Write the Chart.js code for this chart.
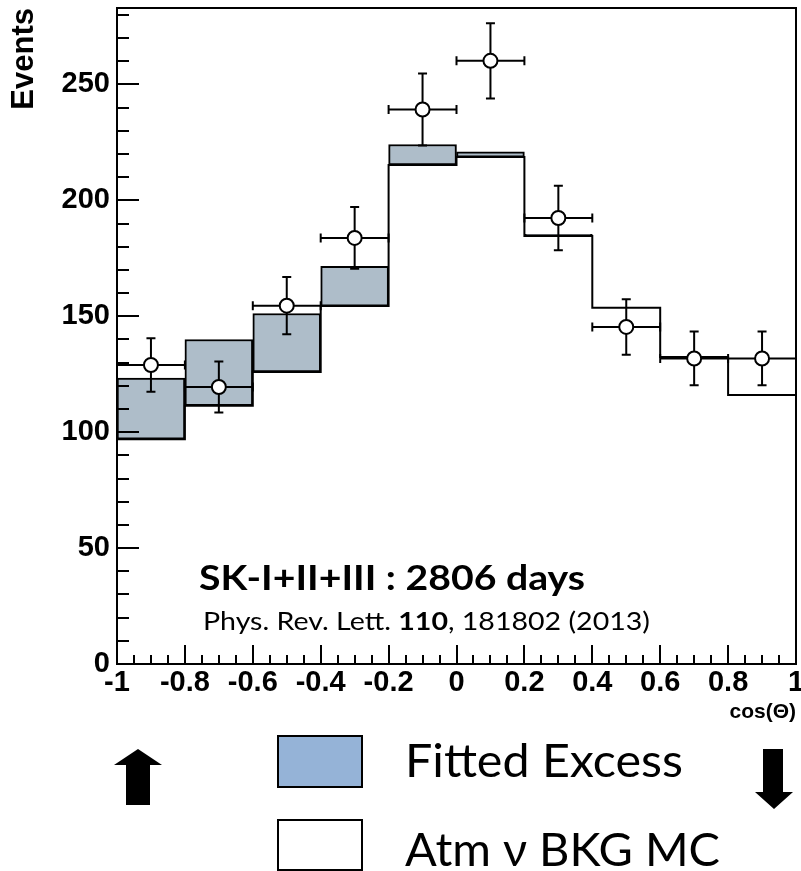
<!DOCTYPE html>
<html>
<head>
<meta charset="utf-8">
<script src="https://cdn.jsdelivr.net/npm/chart.js@4.4.0/dist/chart.umd.min.js"></script>
<style>
  html, body { margin: 0; padding: 0; background: #fff; }
  #wrap { width: 801px; height: 871px; position: relative; }
</style>
</head>
<body>
<div id="wrap"><canvas id="chart"></canvas></div>
<script>
// cos(Theta) binning, 10 bins of 0.2
const binEdges = [-1, -0.8, -0.6, -0.4, -0.2, 0, 0.2, 0.4, 0.6, 0.8, 1];
const binCenters = [-0.9, -0.7, -0.5, -0.3, -0.1, 0.1, 0.3, 0.5, 0.7, 0.9];

// atmospheric nu background MC
const bkgMC = [97, 111.4, 126, 154.4, 215.3, 218.7, 184.6, 153.7, 132.4, 116];
// background + fitted excess
const fitTotal = [123.4, 140, 151.2, 171.6, 224.1, 220.9, 185.4, 153.7, 132.4, 116];

// observed events and their errors
const dataEvents = [129, 119.5, 154.6, 183.8, 239.2, 260.2, 192.4, 145.4, 131.8, 131.8];
const dataErr = [11.5, 11, 12.3, 13.3, 15.5, 16.2, 13.9, 12, 11.6, 11.6];

// axes
const xTickValues = [-1, -0.8, -0.6, -0.4, -0.2, 0, 0.2, 0.4, 0.6, 0.8, 1];
const xTickLabels = ['-1', '-0.8', '-0.6', '-0.4', '-0.2', '0', '0.2', '0.4', '0.6', '0.8', '1'];
const yTickValues = [0, 50, 100, 150, 200, 250];
const yMax = 283;

const axisFont = { family: 'Liberation Sans', weight: 'bold', size: 29 };

// histogram outline needs the last value repeated at the right edge
const mcLine = binEdges.map((e, i) => ({ x: e, y: bkgMC[Math.min(i, bkgMC.length - 1)] }));
const excessBars = binCenters.map((c, i) => ({ x: c, y: [bkgMC[i], fitTotal[i]] }));
const dataPoints = binCenters.map((c, i) => ({ x: c, y: dataEvents[i] }));

// error bars under the open circles
const errorBars = {
  id: 'errorBars',
  beforeDatasetDraw(chart, args) {
    if (args.index !== 0) return;
    const { ctx, scales: { x, y } } = chart;
    const cap = 4.5;
    ctx.save();
    ctx.strokeStyle = '#000';
    ctx.lineWidth = 2;
    ctx.beginPath();
    binCenters.forEach((c, i) => {
      const px = x.getPixelForValue(c);
      const py = y.getPixelForValue(dataEvents[i]);
      const x0 = x.getPixelForValue(binEdges[i]);
      const x1 = x.getPixelForValue(binEdges[i + 1]);
      const yt = y.getPixelForValue(dataEvents[i] + dataErr[i]);
      const yb = y.getPixelForValue(dataEvents[i] - dataErr[i]);
      ctx.moveTo(x0, py); ctx.lineTo(x1, py);
      ctx.moveTo(px, yt); ctx.lineTo(px, yb);
      ctx.moveTo(px - cap, yt); ctx.lineTo(px + cap, yt);
      ctx.moveTo(px - cap, yb); ctx.lineTo(px + cap, yb);
      ctx.moveTo(x0, py - cap); ctx.lineTo(x0, py + cap);
      ctx.moveTo(x1, py - cap); ctx.lineTo(x1, py + cap);
    });
    ctx.stroke();
    ctx.restore();
  }
};

// ROOT style frame with inward ticks
const frameTicks = {
  id: 'frameTicks',
  afterDatasetsDraw(chart) {
    const { ctx, chartArea: a, scales: { x, y } } = chart;
    ctx.save();
    ctx.strokeStyle = '#000';
    ctx.lineWidth = 2;
    ctx.strokeRect(a.left, a.top, a.right - a.left, a.bottom - a.top);
    ctx.beginPath();
    for (let v = 10; v <= yMax; v += 10) {
      const py = Math.round(y.getPixelForValue(v));
      const len = v % 50 === 0 ? 22 : 12;
      ctx.moveTo(a.left, py); ctx.lineTo(a.left + len, py);
    }
    for (let k = 1; k < 40; k++) {
      const px = Math.round(x.getPixelForValue(-1 + k * 0.05));
      const len = k % 4 === 0 ? 19 : 9;
      ctx.moveTo(px, a.bottom); ctx.lineTo(px, a.bottom - len);
    }
    ctx.stroke();
    ctx.restore();
  }
};

// draws text runs squeezed or stretched to a given width
function drawRuns(ctx, runs, x, y, width) {
  let total = 0;
  runs.forEach(r => { ctx.font = r.font; total += ctx.measureText(r.text).width; });
  const sx = width / total;
  ctx.save();
  ctx.translate(x, y);
  ctx.scale(sx, 1);
  let cx = 0;
  runs.forEach(r => {
    ctx.font = r.font;
    ctx.fillText(r.text, cx, 0);
    cx += ctx.measureText(r.text).width;
  });
  ctx.restore();
}

// labels, legend and direction arrows around the plot
const annotations = {
  id: 'annotations',
  afterDraw(chart) {
    const ctx = chart.ctx;
    ctx.save();
    ctx.fillStyle = '#000';
    ctx.textBaseline = 'alphabetic';
    drawRuns(ctx, [{ text: 'SK-I+II+III : 2806 days', font: 'bold 35px Lato' }], 199, 590, 386);
    drawRuns(ctx, [
      { text: 'Phys. Rev. Lett. ', font: '25px Lato' },
      { text: '110', font: 'bold 25px Lato' },
      { text: ', 181802 (2013)', font: '25px Lato' }
    ], 203, 630, 447);

    // legend
    ctx.lineWidth = 2;
    ctx.strokeStyle = '#000';
    ctx.fillStyle = '#95b3d7';
    ctx.fillRect(278, 736, 84, 51);
    ctx.strokeRect(278, 736, 84, 51);
    ctx.fillStyle = '#fff';
    ctx.fillRect(278, 820, 84, 50);
    ctx.strokeRect(278, 820, 84, 50);
    ctx.fillStyle = '#000';
    drawRuns(ctx, [{ text: 'Fitted Excess', font: '47px Lato' }], 405, 777, 278);
    drawRuns(ctx, [{ text: 'Atm \u03bd BKG MC', font: '47px Lato' }], 405, 866, 315);

    // up-going / down-going arrows
    ctx.beginPath();
    ctx.moveTo(138, 749); ctx.lineTo(162, 765); ctx.lineTo(150, 765); ctx.lineTo(150, 805);
    ctx.lineTo(126, 805); ctx.lineTo(126, 765); ctx.lineTo(114, 765); ctx.closePath();
    ctx.fill();
    ctx.beginPath();
    ctx.moveTo(763, 749); ctx.lineTo(783, 749); ctx.lineTo(783, 792); ctx.lineTo(793, 792);
    ctx.lineTo(774, 809); ctx.lineTo(755, 792); ctx.lineTo(763, 792); ctx.closePath();
    ctx.fill();
    ctx.restore();
  }
};

new Chart(document.getElementById('chart'), {
  type: 'line',
  data: {
    datasets: [{
      label: 'Data',
      type: 'scatter',
      data: dataPoints,
      pointStyle: 'circle',
      pointRadius: 7,
      pointBackgroundColor: '#fff',
      pointBorderColor: '#000',
      pointBorderWidth: 2,
      order: 0
    }, {
      label: 'Atm nu BKG MC',
      type: 'line',
      data: mcLine,
      stepped: 'before',
      borderColor: '#000',
      borderWidth: 2,
      pointRadius: 0,
      fill: false,
      order: 1
    }, {
      label: 'Fitted Excess',
      type: 'bar',
      data: excessBars,
      backgroundColor: '#aebdc9',
      borderColor: '#000',
      borderWidth: 2,
      borderSkipped: false,
      barPercentage: 1,
      categoryPercentage: 1,
      order: 2
    }]
  },
  options: {
    responsive: true,
    maintainAspectRatio: false,
    animation: false,
    devicePixelRatio: 1,
    layout: { padding: { top: 8, right: 5, left: 0, bottom: 0 }, autoPadding: false },
    plugins: { legend: { display: false }, tooltip: { enabled: false } },
    scales: {
      x: {
        type: 'linear',
        min: -1,
        max: 1,
        offset: false,
        grid: { display: false, drawTicks: false },
        border: { display: false },
        afterBuildTicks: s => { s.ticks = xTickValues.map(v => ({ value: v })); },
        afterFit: s => { s.height = 207; s.paddingLeft = 0; s.paddingRight = 0; },
        ticks: {
          color: '#000',
          font: axisFont,
          padding: 2,
          maxRotation: 0,
          autoSkip: false,
          callback: (v, i) => xTickLabels[i]
        },
        title: {
          display: true,
          text: 'cos(\u0398)',
          align: 'end',
          color: '#000',
          font: { family: 'Liberation Sans', weight: 'bold', size: 21 },
          padding: { top: 0, bottom: 146 }
        }
      },
      y: {
        min: 0,
        max: yMax,
        grid: { display: false, drawTicks: false },
        border: { display: false },
        afterBuildTicks: s => { s.ticks = yTickValues.map(v => ({ value: v })); },
        afterFit: s => { s.width = 117; s.paddingTop = 0; s.paddingBottom = 0; },
        ticks: { color: '#000', font: axisFont, padding: 7 },
        title: {
          display: true,
          text: 'Events',
          align: 'end',
          color: '#000',
          font: { family: 'Liberation Sans', weight: 'bold', size: 31 },
          padding: { top: 6, bottom: 0 }
        }
      }
    }
  },
  plugins: [errorBars, frameTicks, annotations]
});
</script>
</body>
</html>
